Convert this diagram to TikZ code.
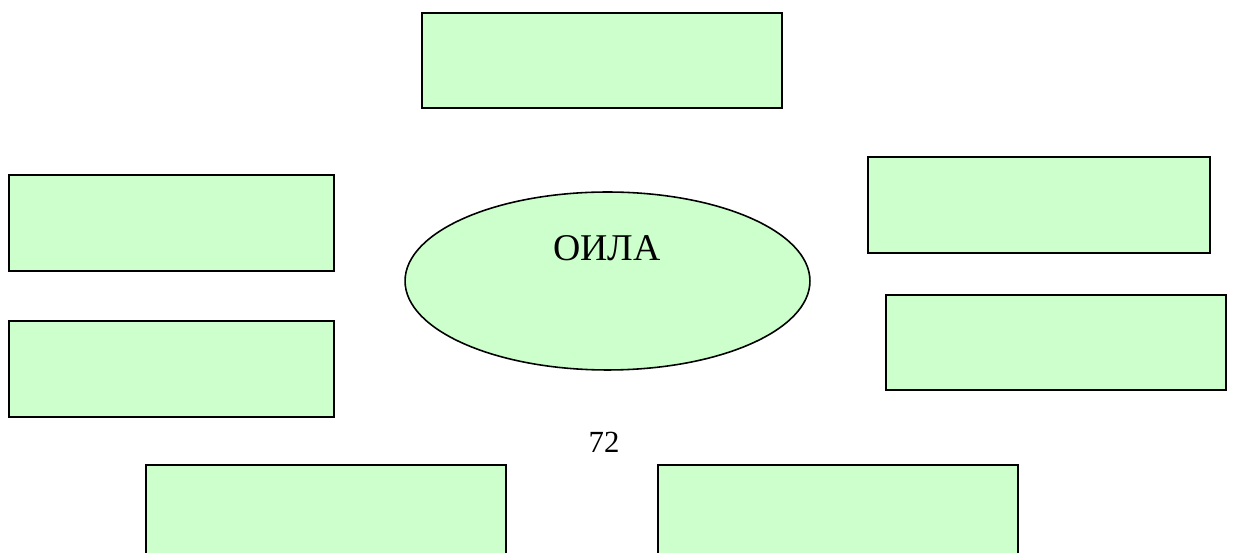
\documentclass[tikz,border=0pt]{standalone}
\usepackage{fontspec}
\setmainfont{Liberation Serif}
\usetikzlibrary{shapes.geometric}
\definecolor{palegreen}{HTML}{CCFFCC}
\tikzset{
  blank/.style={draw=black, line width=1.2pt, fill=palegreen, rectangle, inner sep=0pt},
  hub/.style={draw=black, line width=0.9pt, fill=palegreen, ellipse, inner sep=0pt}
}

\begin{document}
\begin{tikzpicture}[x=0.02cm, y=-0.02cm]
			%%%%% START %%%%%
			\clip (0, 0) rectangle (1234, 553);
			\fill[white] (0, 0) rectangle (1234, 553);
			
			\node[blank, minimum width=7.2cm, minimum height=1.9cm] (top) at (602, 60.5) {};
			
			\node[blank, minimum width=6.5cm, minimum height=1.92cm] (leftA) at (171.5, 223) {};
			\node[blank, minimum width=6.5cm, minimum height=1.92cm] (leftB) at (171.5, 369) {};
			
			\node[blank, minimum width=6.84cm, minimum height=1.92cm] (rightA) at (1039, 205) {};
			\node[blank, minimum width=6.8cm, minimum height=1.9cm] (rightB) at (1056, 342.5) {};
			
			\node[hub, minimum width=8.1cm, minimum height=3.56cm] (oila) at (607.5, 281) {};
			\node[font=\fontsize{21.5}{24}\selectfont] (oilatext) at (607, 248) {ОИЛА};
			
			\node[font=\fontsize{17.5}{20}\selectfont] (page) at (604, 442) {72};
			
			\node[blank, minimum width=7.2cm, minimum height=1.92cm] (botA) at (326, 513) {};
			\node[blank, minimum width=7.2cm, minimum height=1.92cm] (botB) at (838, 513) {};
			%%%%% END %%%%%
\end{tikzpicture}
\end{document}
